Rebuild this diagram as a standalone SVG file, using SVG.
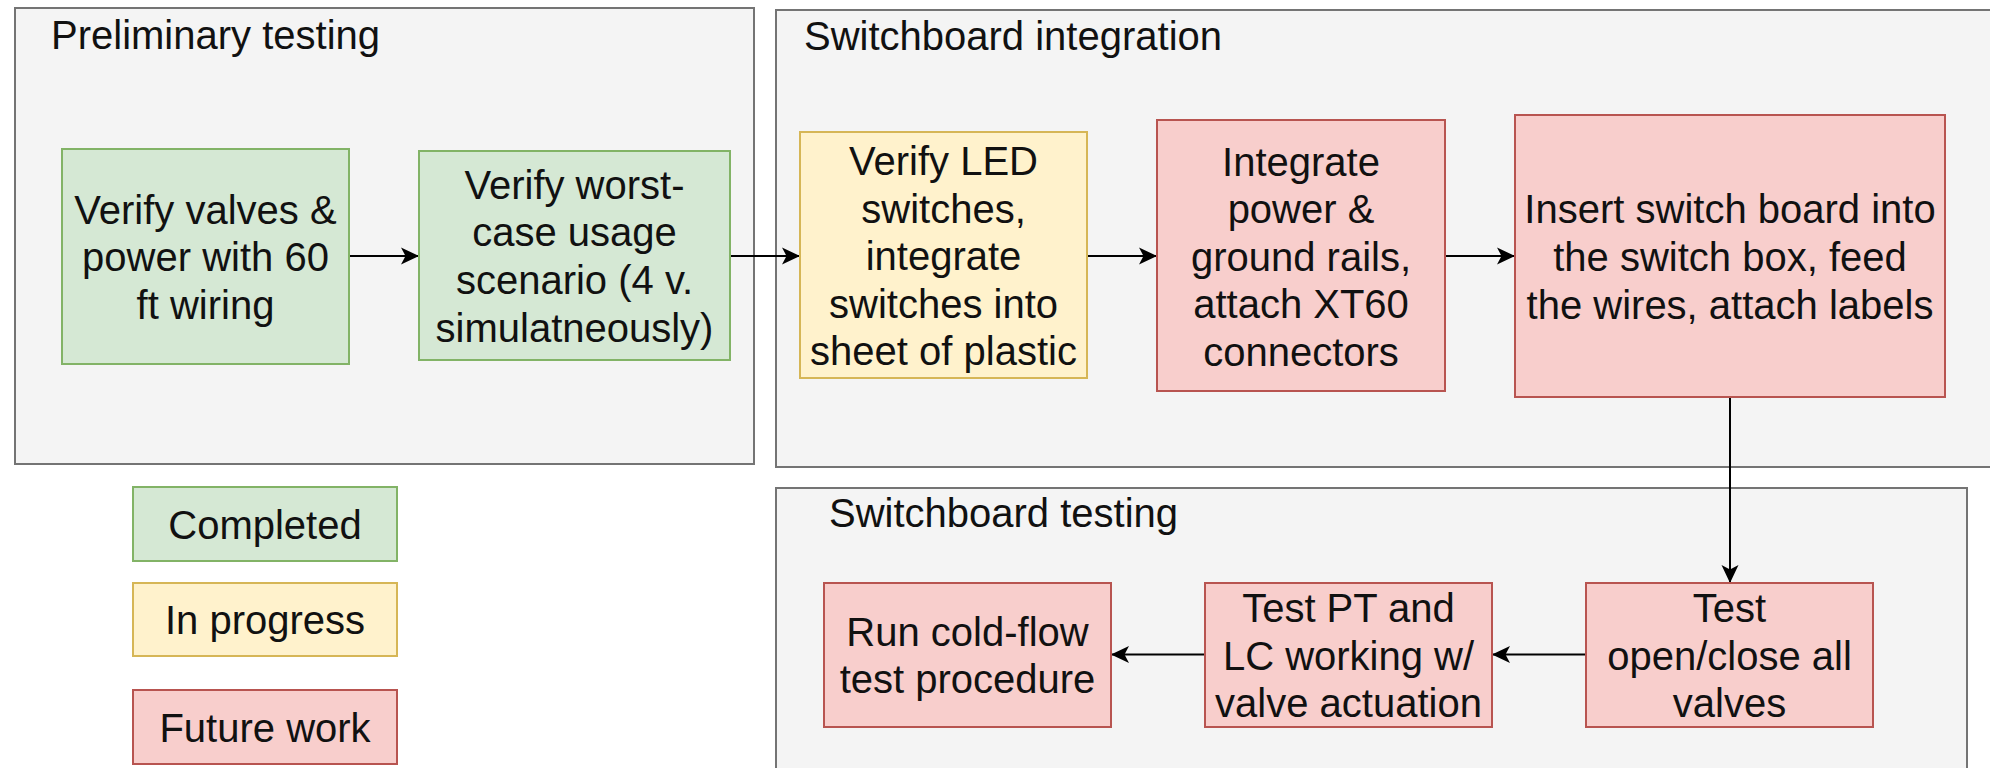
<svg xmlns="http://www.w3.org/2000/svg" width="1990" height="768" viewBox="0 0 1990 768">
<defs>
<style>
.grp{fill:#f4f4f4;stroke:#747474;stroke-width:2}
.done{fill:#d5e8d4;stroke:#82b366;stroke-width:2}
.prog{fill:#fff2cc;stroke:#d6b656;stroke-width:2}
.todo{fill:#f8cecc;stroke:#b85450;stroke-width:2}
text{font-family:"Liberation Sans",Arial,Helvetica,sans-serif;font-size:40px;fill:#111}
.c{text-anchor:middle}
.edge{fill:none;stroke:#000;stroke-width:2;marker-end:url(#arr)}
</style>
<marker id="arr" markerUnits="userSpaceOnUse" viewBox="0 0 20 20" markerWidth="20" markerHeight="20" refX="19" refY="10" orient="auto">
<path d="M19,10 L1,1.5 L5.5,10 L1,18.5 Z" fill="#000"/>
</marker>
</defs>
<rect width="1990" height="768" fill="#fff"/>

<g id="group-preliminary">
<rect class="grp" x="15" y="8" width="739" height="456"/>
<text x="51" y="49">Preliminary testing</text>
</g>
<g id="group-integration">
<rect class="grp" x="776" y="10" width="1220" height="457"/>
<text x="804" y="50">Switchboard integration</text>
</g>
<g id="group-testing">
<rect class="grp" x="776" y="488" width="1191" height="300"/>
<text x="829" y="527">Switchboard testing</text>
</g>

<g id="connectors">
<line class="edge" x1="349" y1="256" x2="419" y2="256"/>
<line class="edge" x1="730" y1="256" x2="800" y2="256"/>
<line class="edge" x1="1087" y1="256" x2="1157" y2="256"/>
<line class="edge" x1="1445" y1="256" x2="1515" y2="256"/>
<line class="edge" x1="1730" y1="397" x2="1730" y2="583"/>
<line class="edge" x1="1586" y1="654.5" x2="1492" y2="654.5"/>
<line class="edge" x1="1205" y1="654.5" x2="1111" y2="654.5"/>
</g>

<g id="n1">
<rect class="done" x="62" y="149" width="287" height="215"/>
<text class="c" x="205.5" y="223.5">Verify valves &amp;</text>
<text class="c" x="205.5" y="271">power with 60</text>
<text class="c" x="205.5" y="318.6">ft wiring</text>
</g>
<g id="n2">
<rect class="done" x="419" y="151" width="311" height="209"/>
<text class="c" x="574.5" y="198.8">Verify worst-</text>
<text class="c" x="574.5" y="246.4">case usage</text>
<text class="c" x="574.5" y="294">scenario (4 v.</text>
<text class="c" x="574.5" y="341.6">simulatneously)</text>
</g>
<g id="n3">
<rect class="prog" x="800" y="132" width="287" height="246"/>
<text class="c" x="943.5" y="175">Verify LED</text>
<text class="c" x="943.5" y="222.6">switches,</text>
<text class="c" x="943.5" y="270.2">integrate</text>
<text class="c" x="943.5" y="317.8">switches into</text>
<text class="c" x="943.5" y="365.4">sheet of plastic</text>
</g>
<g id="n4">
<rect class="todo" x="1157" y="120" width="288" height="271"/>
<text class="c" x="1301" y="175.5">Integrate</text>
<text class="c" x="1301" y="223.1">power &amp;</text>
<text class="c" x="1301" y="270.7">ground rails,</text>
<text class="c" x="1301" y="318.3">attach XT60</text>
<text class="c" x="1301" y="365.9">connectors</text>
</g>
<g id="n5">
<rect class="todo" x="1515" y="115" width="430" height="282"/>
<text class="c" x="1730" y="223.4">Insert switch board into</text>
<text class="c" x="1730" y="271">the switch box, feed</text>
<text class="c" x="1730" y="318.6">the wires, attach labels</text>
</g>
<g id="n6">
<rect class="todo" x="1586" y="583" width="287" height="144"/>
<text class="c" x="1729.5" y="622">Test</text>
<text class="c" x="1729.5" y="669.6">open/close all</text>
<text class="c" x="1729.5" y="717.2">valves</text>
</g>
<g id="n7">
<rect class="todo" x="1205" y="583" width="287" height="144"/>
<text class="c" x="1348.5" y="622">Test PT and</text>
<text class="c" x="1348.5" y="669.6">LC working w/</text>
<text class="c" x="1348.5" y="717.2">valve actuation</text>
</g>
<g id="n8">
<rect class="todo" x="824" y="583" width="287" height="144"/>
<text class="c" x="967.5" y="645.8">Run cold-flow</text>
<text class="c" x="967.5" y="693.4">test procedure</text>
</g>

<g id="legend-completed">
<rect class="done" x="133" y="487" width="264" height="74"/>
<text class="c" x="265" y="538.5">Completed</text>
</g>
<g id="legend-progress">
<rect class="prog" x="133" y="583" width="264" height="73"/>
<text class="c" x="265" y="634">In progress</text>
</g>
<g id="legend-future">
<rect class="todo" x="133" y="690" width="264" height="74"/>
<text class="c" x="265" y="741.5">Future work</text>
</g>
</svg>
